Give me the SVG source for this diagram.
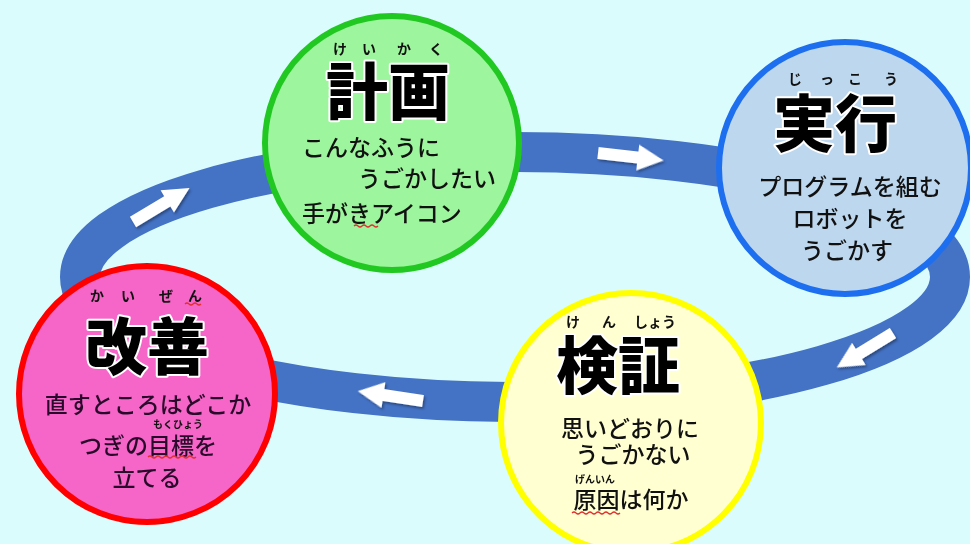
<svg xmlns="http://www.w3.org/2000/svg" xmlns:xlink="http://www.w3.org/1999/xlink" width="970" height="544" viewBox="0 0 970 544">
<defs>
<style>
text{font-family:"Noto Sans CJK JP","Noto Sans CJK SC",sans-serif;dominant-baseline:central}
.title{font-size:62px;font-weight:900;fill:#000;stroke:#fff;stroke-width:4;stroke-linejoin:round;paint-order:stroke;text-anchor:middle}
.ruby{font-size:14px;font-weight:700;fill:#111;text-anchor:middle}
.ruby-s{font-size:10px;font-weight:700;fill:#111;text-anchor:middle}
.body{font-size:23px;font-weight:500;fill:#111}
.mid{text-anchor:middle}
.wavy{fill:none;stroke:#e03030;stroke-width:1.2}
.node{stroke-width:6}
</style>
<filter id="sh" x="-20%" y="-40%" width="150%" height="190%">
<feDropShadow dx="1.5" dy="2" stdDeviation="1.3" flood-color="#000" flood-opacity="0.35"/>
</filter>
<path id="arr" d="M0,-6 L40,-6 L40,-13 L66,0 L40,13 L40,6 L0,6 Z" fill="#fff"/>
</defs>
<rect width="970" height="544" fill="#dbfcfc"/>
<g id="connectors">
<ellipse cx="515" cy="277" rx="435" ry="125" fill="none" stroke="#4472c4" stroke-width="40"/>
<g filter="url(#sh)">
<use xlink:href="#arr" transform="translate(133,222) rotate(-31)"/>
<use xlink:href="#arr" transform="translate(598,153) rotate(6.5)"/>
<use xlink:href="#arr" transform="translate(893,333) rotate(148.5)"/>
<use xlink:href="#arr" transform="translate(423,401) rotate(188.6)"/>
</g>
</g>
<g id="node-keikaku">
<circle class="node" cx="392" cy="143" r="127" fill="#9df59d" stroke="#22c822"/>
<text class="ruby" y="48"><tspan x="340">け</tspan><tspan x="369">い</tspan><tspan x="404">か</tspan><tspan x="436">く</tspan></text>
<text class="title" x="388" y="88">計画</text>
<text class="body" x="302" y="146">こんなふうに</text>
<text class="body" x="358" y="177">うごかしたい</text>
<text class="body" x="302" y="212">手がきアイコン</text>
<path class="wavy" d="M354,226 q2,-2 4,0 t4,0 t4,0 t4,0 t4,0 t4,0"/>
</g>
<g id="node-jikkou">
<circle class="node" cx="845" cy="168" r="126" fill="#bdd7ee" stroke="#1e6ff0"/>
<text class="ruby" y="78"><tspan x="795">じ</tspan><tspan x="827">っ</tspan><tspan x="855">こ</tspan><tspan x="891">う</tspan></text>
<text class="title" x="835" y="120">実行</text>
<text class="body mid" x="850" y="185">プログラムを組む</text>
<text class="body mid" x="850" y="217">ロボットを</text>
<text class="body mid" x="847" y="249">うごかす</text>
</g>
<g id="node-kensho">
<circle class="node" cx="631" cy="423" r="130" fill="#ffffd2" stroke="#ffff00" stroke-width="7"/>
<text class="ruby" y="321"><tspan x="573">け</tspan><tspan x="609">ん</tspan><tspan x="655">しょう</tspan></text>
<text class="title" x="618" y="362">検証</text>
<text class="body mid" x="630" y="427">思いどおりに</text>
<text class="body mid" x="633" y="453">うごかない</text>
<text class="ruby-s" x="595" y="478">げんいん</text>
<text class="body mid" x="631" y="498">原因は何か</text>
<path class="wavy" d="M572,513 q2,-2 4,0 t4,0 t4,0 t4,0 t4,0 t4,0 t4,0 t4,0 t4,0 t4,0 t4,0 t4,0"/>
</g>
<g id="node-kaizen">
<circle class="node" cx="147" cy="394" r="128" fill="#f566c8" stroke="#ff0000" stroke-width="7"/>
<text class="ruby" y="295"><tspan x="97">か</tspan><tspan x="128">い</tspan><tspan x="166">ぜ</tspan><tspan x="195">ん</tspan></text>
<path class="wavy" d="M185,304 q2,-2 4,0 t4,0 t4,0 t4,0"/>
<text class="title" x="147" y="343">改善</text>
<text class="body mid" x="148" y="403" style="fill:#2a0a2a">直すところはどこか</text>
<text class="ruby-s" x="178" y="423">もくひょう</text>
<text class="body mid" x="148" y="444" style="fill:#2a0a2a">つぎの目標を</text>
<path class="wavy" d="M148,457 q2,-2 4,0 t4,0 t4,0 t4,0 t4,0 t4,0 t4,0 t4,0 t4,0 t4,0 t4,0 t4,0"/>
<text class="body mid" x="147" y="476" style="fill:#2a0a2a">立てる</text>
</g>
</svg>
